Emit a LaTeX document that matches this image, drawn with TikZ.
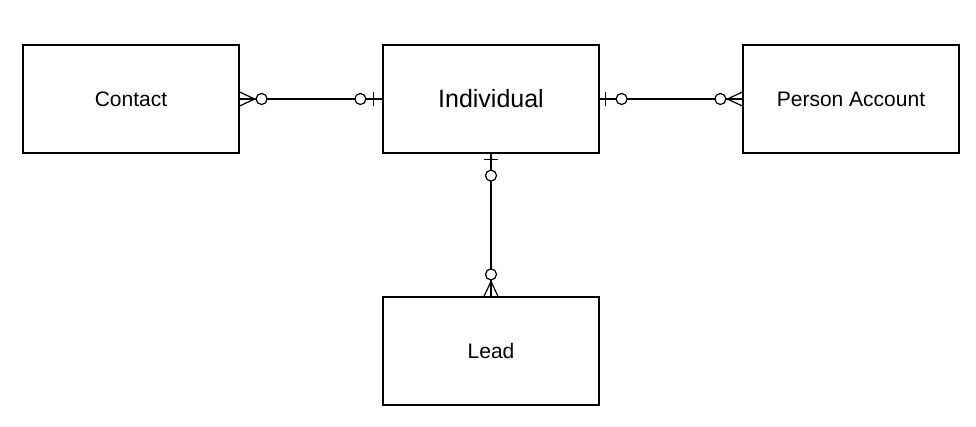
\documentclass[tikz,border=0pt]{standalone}
\usepackage{fontspec}
\setmainfont{Liberation Sans}
\usetikzlibrary{calc}

\begin{document}
\begin{tikzpicture}[
    x=1pt, y=-1pt,
    entity/.style={rectangle, draw=black, line width=1.2pt, minimum width=216pt, minimum height=108pt, align=center, font=\fontsize{21}{24}\selectfont},
    rel/.style={line width=1.2pt, color=black},
    ring/.style={rel, fill=white}
]
    \useasboundingbox[fill=white] (0,0) rectangle (976,426);

    % Nodes
    \node[entity] (contact) at (131,99) {Contact};
    \node[entity, font=\fontsize{25}{28}\selectfont] (individual) at (491,99) {Individual};
    \node[entity] (person) at (851,99) {Person Account};
    \node[entity] (lead) at (491,351) {Lead};

    % Lines
    \draw[rel] (contact.east) -- (individual.west);
    \draw[rel] (individual.east) -- (person.west);
    \draw[rel] (individual.south) -- (lead.north);

    % Contact side: many, optional
    \draw[rel] ($(contact.east)+(0,-7)$) -- ($(contact.east)+(15,0)$) -- ($(contact.east)+(0,7)$);
    \draw[ring] ($(contact.east)+(22,0)$) circle (5.5);
    % Individual side (left): one, optional
    \draw[ring] ($(individual.west)+(-22,0)$) circle (5.5);
    \draw[rel] ($(individual.west)+(-9,-7)$) -- ($(individual.west)+(-9,7)$);

    % Individual side (right): one, optional
    \draw[rel] ($(individual.east)+(6,-7)$) -- ($(individual.east)+(6,7)$);
    \draw[ring] ($(individual.east)+(22,0)$) circle (5.5);
    % Person Account side: many, optional
    \draw[rel] ($(person.west)+(0,-7)$) -- ($(person.west)+(-15,0)$) -- ($(person.west)+(0,7)$);
    \draw[ring] ($(person.west)+(-22,0)$) circle (5.5);

    % Individual side (bottom): one, optional
    \draw[rel] ($(individual.south)+(-7,6)$) -- ($(individual.south)+(7,6)$);
    \draw[ring] ($(individual.south)+(0,22)$) circle (5.5);
    % Lead side: many, optional
    \draw[rel] ($(lead.north)+(-7,0)$) -- ($(lead.north)+(0,-15)$) -- ($(lead.north)+(7,0)$);
    \draw[ring] ($(lead.north)+(0,-22)$) circle (5.5);

\end{tikzpicture}
\end{document}
